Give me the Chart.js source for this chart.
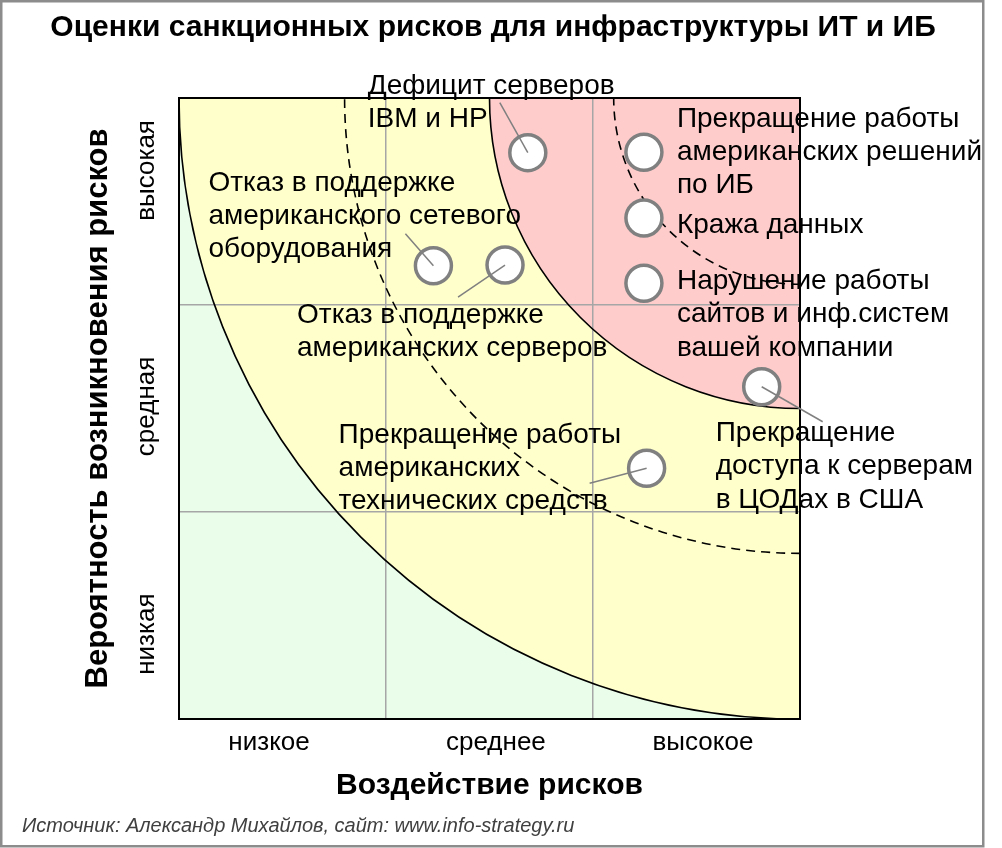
<!DOCTYPE html>
<html><head><meta charset="utf-8">
<script src="https://cdn.jsdelivr.net/npm/chart.js@4.4.1/dist/chart.umd.min.js"></script>
<style>html,body{margin:0;padding:0;background:#fff}#wrap{position:relative;width:1002px;height:848px}canvas{display:block}</style>
</head><body><div id="wrap"><canvas id="c" width="1002" height="848" style="width:1002px;height:848px"></canvas></div>
<script>
// ---------- data ----------
const chartTitle = 'Оценки санкционных рисков для инфраструктуры ИТ и ИБ';
const sourceText = 'Источник: Александр Михайлов, сайт: www.info-strategy.ru';
const xAxisTitle = 'Воздействие рисков';
const yAxisTitle = 'Вероятность возникновения рисков';
const impactTickLabels = ['низкое', 'среднее', 'высокое'];
const impactTickPos = [0.435, 1.531, 2.531];
const probabilityTickLabels = ['низкая', 'средная', 'высокая'];
const probabilityTickPos = [0.41, 1.51, 2.65];
const gridLevels = [0, 1, 2, 3];
const zoneRadii = [3, 1.5];        // solid zone boundaries, centred on the top-right corner
const dashedRadii = [2.2, 0.9];    // dashed guide arcs
const riskLabels = [
  ['Дефицит серверов', 'IBM и HP'],
  ['Прекращение работы', 'американских решений', 'по ИБ'],
  ['Кража данных'],
  ['Нарушение работы', 'сайтов и инф.систем', 'вашей компании'],
  ['Прекращение', 'доступа к серверам', 'в ЦОДах в США'],
  ['Отказ в поддержке', 'американского сетевого', 'оборудования'],
  ['Отказ в поддержке', 'американских серверов'],
  ['Прекращение работы', 'американских', 'технических средств']
];
const impactValues = [1.685, 2.246, 2.246, 2.246, 2.815, 1.229, 1.575, 2.259];
const probabilityValues = [2.736, 2.738, 2.420, 2.105, 1.605, 2.190, 2.193, 1.211];

// ---------- layout / style ----------
const FONT = '"Liberation Sans", Arial, sans-serif';
const zoneColors = ['#eafdea', '#ffffcc', '#ffcccc'];
const labelFontSize = 28, labelLineH = 33.3;
const tickFontSize = 26, titleFontSize = 30, xTitleSize = 30, yTitleSize = 31;
// label offsets (px) from the point centre: first baseline, leader end
const labelLayout = [
  {dx: -160, dy: -59, leader: [-28, -50]},
  {dx: 33, dy: -25.6, leader: null},
  {dx: 33, dy: 15, leader: null},
  {dx: 33, dy: 5.7, leader: null},
  {dx: -46, dy: 54.3, leader: [61, 35]},
  {dx: -225, dy: -75, leader: [-28, -32]},
  {dx: -208, dy: 58, leader: [-47, 32]},
  {dx: -308, dy: -25.6, leader: [-57, 15]}
];
const PLOT = {left: 179, right: 800, top: 98, bottom: 719};
const W = 1002, H = 848;

Chart.defaults.font.family = FONT;
Chart.defaults.color = '#000';

const mctx = document.createElement('canvas').getContext('2d');
mctx.font = `normal ${tickFontSize}px ${FONT}`;
const yWidest = Math.max(...probabilityTickLabels.map(t => mctx.measureText(t).width));

const matrixPlugin = {
  id: 'matrix',
  beforeDraw(chart) {
    const {ctx, chartArea: a, scales: {x, y}} = chart;
    ctx.save();
    ctx.fillStyle = '#fff';
    ctx.fillRect(0, 0, chart.width, chart.height);
    ctx.strokeStyle = '#8c8c8c';
    ctx.lineWidth = 2.5;
    ctx.strokeRect(1.25, 1.25, 982, 845);
    ctx.beginPath();
    ctx.rect(a.left, a.top, a.width, a.height);
    ctx.clip();
    ctx.fillStyle = zoneColors[0];
    ctx.fillRect(a.left, a.top, a.width, a.height);
    const cx = x.getPixelForValue(x.max), cy = y.getPixelForValue(y.max);
    zoneRadii.forEach((r, i) => {
      const rx = cx - x.getPixelForValue(x.max - r);
      const ry = y.getPixelForValue(y.max - r) - cy;
      ctx.beginPath();
      ctx.ellipse(cx, cy, rx, ry, 0, 0, Math.PI * 2);
      ctx.fillStyle = zoneColors[i + 1];
      ctx.fill();
    });
    ctx.restore();
  },
  beforeDatasetsDraw(chart) {
    const {ctx, chartArea: a, scales: {x, y}} = chart;
    const cx = x.getPixelForValue(x.max), cy = y.getPixelForValue(y.max);
    ctx.save();
    ctx.beginPath();
    ctx.rect(a.left, a.top, a.width, a.height);
    ctx.clip();
    ctx.strokeStyle = '#000';
    ctx.lineWidth = 1.6;
    const arc = (r) => {
      const rx = cx - x.getPixelForValue(x.max - r);
      const ry = y.getPixelForValue(y.max - r) - cy;
      ctx.beginPath();
      ctx.ellipse(cx, cy, rx, ry, 0, Math.PI / 2, Math.PI);
      ctx.stroke();
    };
    zoneRadii.forEach(arc);
    ctx.setLineDash([9, 6]);
    dashedRadii.forEach(arc);
    ctx.restore();
    ctx.save();
    ctx.strokeStyle = '#000';
    ctx.lineWidth = 2;
    ctx.strokeRect(a.left, a.top, a.width, a.height);
    ctx.restore();
  },
  afterDatasetsDraw(chart) {
    const {ctx} = chart;
    const meta = chart.getDatasetMeta(0);
    ctx.save();
    ctx.strokeStyle = '#808080';
    ctx.lineWidth = 1.5;
    meta.data.forEach((pt, i) => {
      const L = labelLayout[i];
      if (L.leader) {
        ctx.beginPath();
        ctx.moveTo(pt.x, pt.y);
        ctx.lineTo(pt.x + L.leader[0], pt.y + L.leader[1]);
        ctx.stroke();
      }
    });
    ctx.fillStyle = '#000';
    ctx.font = `normal ${labelFontSize}px ${FONT}`;
    ctx.textAlign = 'left';
    ctx.textBaseline = 'alphabetic';
    meta.data.forEach((pt, i) => {
      const L = labelLayout[i];
      riskLabels[i].forEach((line, j) => {
        ctx.fillText(line, pt.x + L.dx, pt.y + L.dy + j * labelLineH);
      });
    });
    // chart title and source
    ctx.textAlign = 'center';
    ctx.textBaseline = 'middle';
    ctx.font = `bold ${titleFontSize}px ${FONT}`;
    ctx.fillText(chartTitle, 493, 28);
    ctx.textAlign = 'left';
    ctx.font = `italic 20px ${FONT}`;
    ctx.fillStyle = '#404040';
    ctx.fillText(sourceText, 22, 826);
    ctx.restore();
  }
};

const sortTicks = (pos) => [...new Set([...gridLevels, ...pos])].sort((a, b) => a - b).map(v => ({value: v}));
const gridColor = (c) => (c.tick && gridLevels.includes(c.tick.value) && c.tick.value > 0 && c.tick.value < 3) ? '#a6a6a6' : 'rgba(0,0,0,0)';

new Chart(document.getElementById('c'), {
  type: 'scatter',
  data: {
    datasets: [{
      data: impactValues.map((v, i) => ({x: v, y: probabilityValues[i]})),
      pointRadius: 18,
      pointHoverRadius: 18,
      pointBorderWidth: 3.5,
      pointBackgroundColor: '#ffffff',
      pointBorderColor: '#808080'
    }]
  },
  options: {
    responsive: false,
    maintainAspectRatio: false,
    devicePixelRatio: 1,
    animation: false,
    events: [],
    layout: {padding: {top: PLOT.top, right: W - PLOT.right, bottom: 0, left: 0}},
    plugins: {legend: {display: false}, tooltip: {enabled: false}},
    scales: {
      x: {
        type: 'linear', min: 0, max: 3,
        afterBuildTicks: (s) => { s.ticks = sortTicks(impactTickPos); },
        afterFit: (s) => { s.height = H - PLOT.bottom; },
        ticks: {
          autoSkip: false, maxRotation: 0, minRotation: 0,
          padding: 743 - PLOT.bottom - tickFontSize * 0.6,
          font: {size: tickFontSize},
          color: '#000',
          callback: (v) => { const i = impactTickPos.indexOf(v); return i >= 0 ? impactTickLabels[i] : ''; }
        },
        grid: {color: gridColor, lineWidth: 1.5, drawTicks: false},
        border: {display: false},
        title: {display: true, text: xAxisTitle, font: {size: xTitleSize, weight: 'bold'}, color: '#000',
                padding: {top: 0, bottom: H - 786 - xTitleSize * 0.6}}
      },
      y: {
        type: 'linear', min: 0, max: 3,
        afterBuildTicks: (s) => { s.ticks = sortTicks(probabilityTickPos); },
        afterFit: (s) => { s.width = PLOT.left; },
        ticks: {
          autoSkip: false, minRotation: 90, maxRotation: 90, crossAlign: 'center',
          padding: PLOT.left - 147 - yWidest / 2,
          font: {size: tickFontSize},
          color: '#000',
          callback: (v) => { const i = probabilityTickPos.indexOf(v); return i >= 0 ? probabilityTickLabels[i] : ''; }
        },
        grid: {color: gridColor, lineWidth: 1.5, drawTicks: false},
        border: {display: false},
        title: {display: true, text: yAxisTitle, font: {size: yTitleSize, weight: 'bold'}, color: '#000',
                padding: {top: 98 - yTitleSize * 0.6, bottom: 0}}
      }
    }
  },
  plugins: [matrixPlugin]
});
</script></body></html>
